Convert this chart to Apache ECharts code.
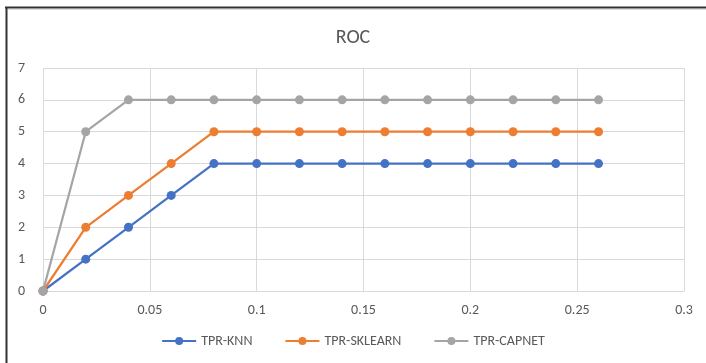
<!DOCTYPE html>
<html>
<head>
<meta charset="utf-8">
<script src="https://cdn.jsdelivr.net/npm/echarts@6/dist/echarts.min.js"></script>
<style>
  html, body { margin: 0; padding: 0; background: #fff; }
  #chart { width: 706px; height: 363px; }
</style>
</head>
<body>
<div id="chart"></div>
<script>
// False positive rates (x) shared by all three curves
const fpr = [0, 0.02, 0.04, 0.06, 0.08, 0.1, 0.12, 0.14, 0.16, 0.18, 0.2, 0.22, 0.24, 0.26];
// True positive rates per model
const tprKnn     = [0, 1, 2, 3, 4, 4, 4, 4, 4, 4, 4, 4, 4, 4];
const tprSklearn = [0, 2, 3, 4, 5, 5, 5, 5, 5, 5, 5, 5, 5, 5];
const tprCapnet  = [0, 5, 6, 6, 6, 6, 6, 6, 6, 6, 6, 6, 6, 6];
const seriesNames = ['TPR-KNN', 'TPR-SKLEARN', 'TPR-CAPNET'];
const seriesColors = ['#4472C4', '#ED7D31', '#A5A5A5'];

const pairs = ys => fpr.map((x, i) => [x, ys[i]]);
const allY = [tprKnn, tprSklearn, tprCapnet];

const chart = echarts.init(document.getElementById('chart'), null, { renderer: 'canvas' });
const textColor = '#595959';
const gridColor = '#D9D9D9';
const font = 'Calibri, Carlito, "Open Sans", "Liberation Sans", sans-serif';

chart.setOption({
  backgroundColor: '#fff',
  animation: false,
  title: {
    text: 'ROC',
    left: 'center',
    top: 23,
    textStyle: { color: textColor, fontSize: 20, fontWeight: 'normal', fontFamily: font }
  },
  legend: {
    bottom: 10,
    left: 'center',
    itemWidth: 34,
    itemHeight: 10,
    itemGap: 32,
    textStyle: { color: textColor, fontSize: 14, fontFamily: font },
    data: seriesNames
  },
  grid: { left: 43, right: 22, top: 68, bottom: 72 },
  xAxis: {
    type: 'value',
    min: 0, max: 0.3, interval: 0.05,
    axisLine: { show: true, lineStyle: { color: gridColor } },
    axisTick: { show: false },
    splitLine: { show: true, lineStyle: { color: gridColor, width: 1 } },
    axisLabel: { color: textColor, fontSize: 14, fontFamily: font, margin: 12 }
  },
  yAxis: {
    type: 'value',
    min: 0, max: 7, interval: 1,
    axisLine: { show: false },
    axisTick: { show: false },
    splitLine: { show: true, lineStyle: { color: gridColor, width: 1 } },
    axisLabel: { color: textColor, fontSize: 14, fontFamily: font, margin: 18 }
  },
  graphic: [
    { type: 'line', shape: { x1: 5, y1: 7.5, x2: 706, y2: 7.5 }, style: { stroke: '#333', lineWidth: 2 } },
    { type: 'line', shape: { x1: 6.5, y1: 7, x2: 6.5, y2: 363 }, style: { stroke: '#333', lineWidth: 2 } },
    { type: 'line', shape: { x1: 8, y1: 9.5, x2: 706, y2: 9.5 }, style: { stroke: '#DDD', lineWidth: 1 } }
  ],
  series: seriesNames.map((name, k) => ({
    name,
    type: 'line',
    data: pairs(allY[k]),
    symbol: 'circle',
    symbolSize: 9,
    showAllSymbol: true,
    itemStyle: { color: seriesColors[k] },
    lineStyle: { color: seriesColors[k], width: 2.25 }
  }))
});
</script>
</body>
</html>
